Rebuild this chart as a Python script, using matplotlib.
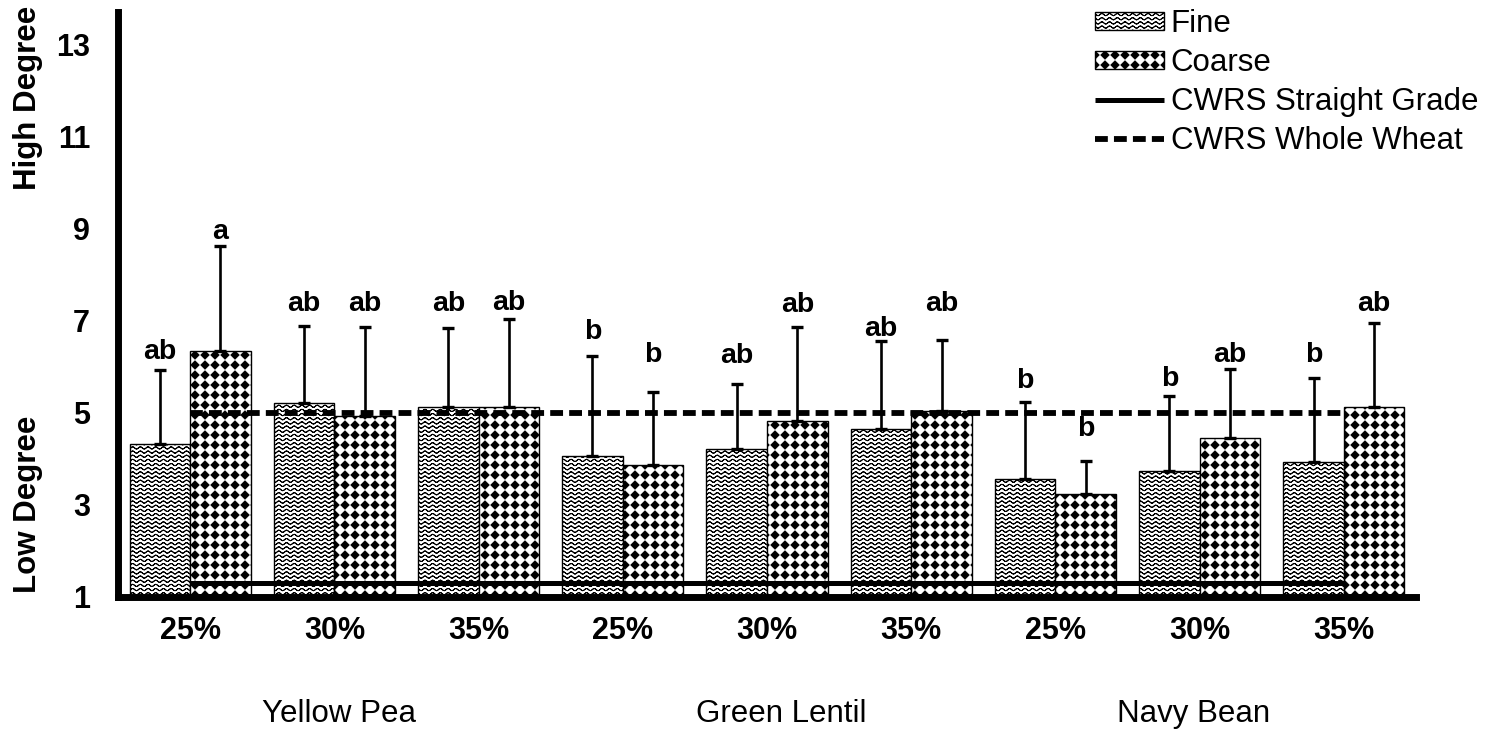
import warnings

import matplotlib
matplotlib.use("Agg")
import matplotlib.hatch as mhatch
import matplotlib.pyplot as plt
import numpy as np
from matplotlib.path import Path

warnings.filterwarnings("ignore")

# ─── Data ──────────────────────────────────────────────────────────────────────

concentrations = ["25%", "30%", "35%", "25%", "30%", "35%", "25%", "30%", "35%"]
pulses = ["Yellow Pea", "Green Lentil", "Navy Bean"]
pulse_label_x = [1.03, 4.1, 6.96]

fine_mean = [4.33, 5.21, 5.14, 4.06, 4.21, 4.65, 3.56, 3.73, 3.93]
fine_err = [1.61, 1.69, 1.70, 2.19, 1.43, 1.91, 1.69, 1.64, 1.84]
coarse_mean = [6.34, 4.93, 5.12, 3.86, 4.82, 5.04, 3.24, 4.45, 5.12]
coarse_err = [2.28, 1.95, 1.93, 1.59, 2.06, 1.54, 0.71, 1.50, 1.83]

fine_letters = ["ab", "ab", "ab", "b", "ab", "ab", "b", "b", "b"]
coarse_letters = ["a", "ab", "ab", "b", "ab", "ab", "b", "ab", "ab"]
fine_letter_y = [6.32, 7.36, 7.38, 6.77, 6.23, 6.82, 5.70, 5.73, 6.27]
coarse_letter_y = [8.94, 7.36, 7.40, 6.25, 7.34, 7.38, 4.65, 6.27, 7.36]

straight_grade = 1.30
whole_wheat = 5.00

yticks = [1, 3, 5, 7, 9, 11, 13]


# ─── Excel-like fill patterns (registered as extra hatch types) ────────────────

class WaveHatch(mhatch.HatchPatternBase):
    """Rows of small waves, selected with '~'."""
    ROWS, WAVES, STEPS = 24, 13, 8

    def __init__(self, hatch, density):
        self.num_rows = self.ROWS if "~" in hatch else 0
        self.npts = self.WAVES * self.STEPS + 1
        self.num_vertices = self.num_rows * self.npts * 2

    def set_vertices_and_codes(self, vertices, codes):
        x = np.linspace(0.0, 1.0, self.npts)
        wave = 0.011 * np.sin(2 * np.pi * self.WAVES * x)
        for r in range(self.num_rows):
            row = np.column_stack([x, (r + 0.5) / self.num_rows + wave])
            k = 2 * r * self.npts
            # go and come back so the row has no fill area
            vertices[k:k + self.npts] = row
            vertices[k + self.npts:k + 2 * self.npts] = row[::-1]
            codes[k] = Path.MOVETO
            codes[k + 1:k + 2 * self.npts] = Path.LINETO


class DiamondHatch(mhatch.HatchPatternBase):
    """Grid of filled diamonds, selected with 'd'."""
    GRID, HALF = 10, 0.041

    def __init__(self, hatch, density):
        self.num_shapes = self.GRID ** 2 if "d" in hatch else 0
        self.num_vertices = self.num_shapes * 5

    def set_vertices_and_codes(self, vertices, codes):
        h = self.HALF
        unit = np.array([[0, -h], [h, 0], [0, h], [-h, 0], [0, -h]])
        centers = (np.arange(self.GRID) + 0.5) / self.GRID
        k = 0
        for cy in centers:
            for cx in centers:
                vertices[k:k + 5] = unit + [cx, cy]
                codes[k:k + 5] = [Path.MOVETO, Path.LINETO, Path.LINETO,
                                  Path.LINETO, Path.CLOSEPOLY]
                k += 5


mhatch._hatch_types.extend([WaveHatch, DiamondHatch])


# ─── Plot ──────────────────────────────────────────────────────────────────────

plt.rcParams["font.family"] = ["Liberation Sans", "DejaVu Sans"]
plt.rcParams["hatch.linewidth"] = 0.7

W, H, DPI = 1492, 735, 100
fig = plt.figure(figsize=(W / DPI, H / DPI), dpi=DPI)
ax = fig.add_axes([118 / W, 1 - 597 / H, (1416 - 118) / W, (597 - 12) / H])

x = np.arange(len(concentrations))
bw = 0.42

fine_bars = ax.bar(x - bw / 2, fine_mean, bw, color="white", edgecolor="black",
                   linewidth=1.0, hatch="~", label="Fine", zorder=2)
coarse_bars = ax.bar(x + bw / 2, coarse_mean, bw, color="white",
                     edgecolor="black", linewidth=1.0, hatch="d",
                     label="Coarse", zorder=2)

sg_line, = ax.plot(x, [straight_grade] * len(x), color="black", lw=3.6,
                   solid_capstyle="butt", label="CWRS Straight Grade", zorder=3)
ww_line, = ax.plot(x, [whole_wheat] * len(x), color="black", lw=4.2,
                   dashes=(2.2, 1.05), dash_capstyle="butt",
                   label="CWRS Whole Wheat", zorder=3)

zeros = np.zeros(len(x))
ax.errorbar(x - bw / 2, fine_mean, yerr=[zeros, fine_err], fmt="none",
            ecolor="black", elinewidth=1.9, capsize=4.5, capthick=2.4, zorder=4)
ax.errorbar(x + bw / 2, coarse_mean, yerr=[zeros, coarse_err], fmt="none",
            ecolor="black", elinewidth=1.9, capsize=4.5, capthick=2.4, zorder=4)

for i in range(len(x)):
    ax.text(x[i] - bw / 2, fine_letter_y[i], fine_letters[i], ha="center",
            va="center", fontsize=20.5, fontweight="bold", zorder=5)
    ax.text(x[i] + bw / 2, coarse_letter_y[i], coarse_letters[i], ha="center",
            va="center", fontsize=20.5, fontweight="bold", zorder=5)

for px, name in zip(pulse_label_x, pulses):
    ax.text(px, -(722 - 597) / 585, name, transform=ax.get_xaxis_transform(),
            ha="center", va="baseline", fontsize=22.5)

ax.set_xlim(-0.5, len(x) - 0.5)
ax.set_ylim(1, 1 + (597 - 12) / 46)
ax.set_xticks(x)
ax.set_xticklabels(concentrations, fontsize=22, fontweight="bold")
ax.set_yticks(yticks)
ax.set_yticklabels([str(t) for t in yticks], fontsize=22, fontweight="bold")
ax.tick_params(axis="x", length=0, pad=14)
ax.tick_params(axis="y", length=0, pad=20)

for side in ("top", "right"):
    ax.spines[side].set_visible(False)
for side in ("left", "bottom"):
    ax.spines[side].set_linewidth(5)
    ax.spines[side].set_color("black")

fig.text(28 / W, 1 - 98 / H, "High Degree", rotation=90, ha="center",
         va="center", fontsize=22.5, fontweight="bold")
fig.text(28 / W, 1 - 504 / H, "Low Degree", rotation=90, ha="center",
         va="center", fontsize=22.5, fontweight="bold")

fig.legend(handles=[fine_bars, coarse_bars, sg_line, ww_line],
           loc="upper left", bbox_to_anchor=(1095 / W, 1 - 9 / H),
           frameon=False, fontsize=22.5, borderpad=0, borderaxespad=0,
           handlelength=2.2, handleheight=0.55, handletextpad=0.22,
           labelspacing=0.29)

fig.savefig("out.png", dpi=DPI)
